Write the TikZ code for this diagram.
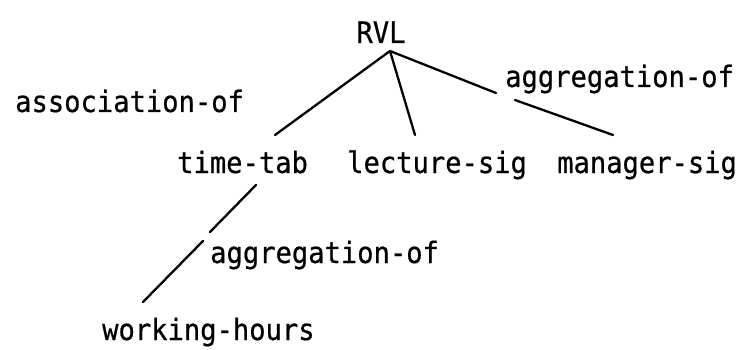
\documentclass[tikz,border=0pt]{standalone}
\usepackage{fontspec}
\setmonofont[FakeStretch=0.92,FakeBold=0.6]{DejaVu Sans Mono}
\begin{document}
\begin{tikzpicture}[x=1pt,y=-1pt,
  lbl/.style={font=\ttfamily\fontsize{29.5}{32}\selectfont, inner sep=0pt, anchor=base west},
  link/.style={line width=2.3pt, line cap=round, line join=round}]
\useasboundingbox[fill=white] (0,0) rectangle (755,350);

% concept names and relation labels
\node[lbl, anchor=base] (rvl) at (381,43) {RVL};
\node[lbl] (assoc) at (15,112) {association-of};
\node[lbl] (aggtop) at (505,87) {aggregation-of};
\node[lbl] (timetab) at (177,173) {time-tab};
\node[lbl] (lecture) at (347,173) {lecture-sig};
\node[lbl] (manager) at (557,173) {manager-sig};
\node[lbl] (agglow) at (210,263) {aggregation-of};
\node[lbl] (work) at (102,340) {working-hours};

% attachment points of the tree edges
\coordinate (apex) at (390,51);
\coordinate (tt-top) at (275,135);
\coordinate (ls-top) at (415,135);
\coordinate (ms-top) at (613,135);
\coordinate (ms-gapA) at (496,93);
\coordinate (ms-gapB) at (515,100);
\coordinate (tt-bot) at (256,185);
\coordinate (wh-gapA) at (210,232);
\coordinate (wh-gapB) at (203,241);
\coordinate (wh-top) at (143,302);

% edges of the tree
\draw[link] (apex) -- (tt-top);
\draw[link] (apex) -- (ls-top);
\draw[link] (apex) -- (ms-gapA);
\draw[link] (ms-gapB) -- (ms-top);
\draw[link] (tt-bot) -- (wh-gapA);
\draw[link] (wh-gapB) -- (wh-top);
\end{tikzpicture}
\end{document}
